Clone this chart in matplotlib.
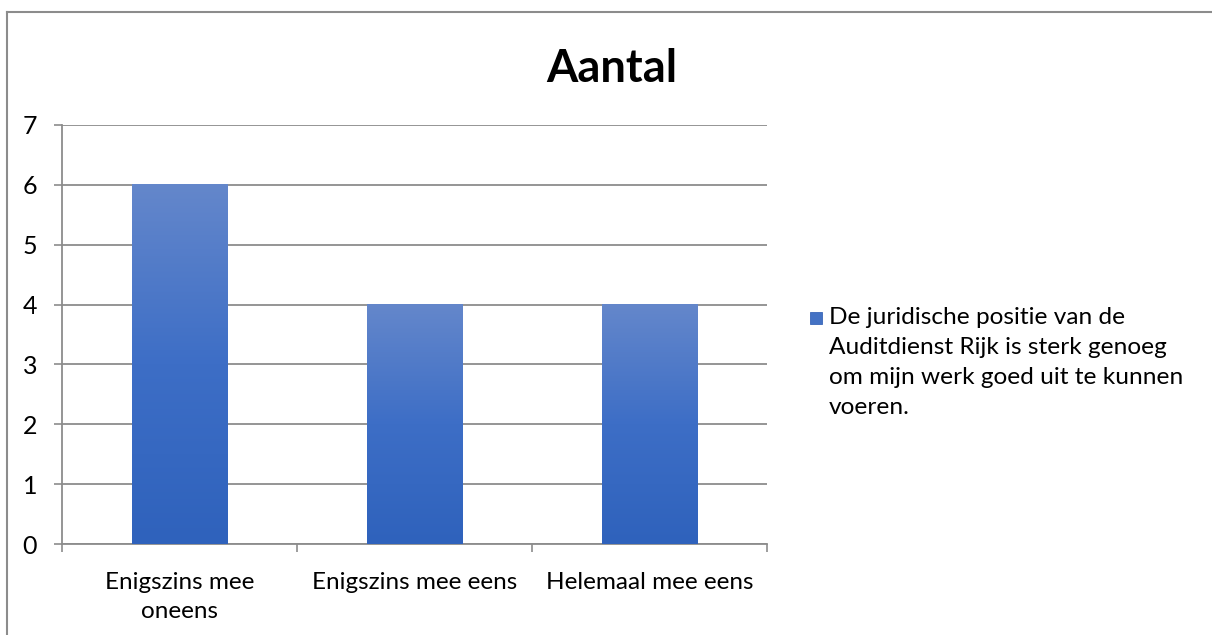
import numpy as np
import matplotlib.pyplot as plt
from matplotlib.colors import LinearSegmentedColormap
from matplotlib.patches import Rectangle
from matplotlib.lines import Line2D

categories = ['Enigszins mee\noneens', 'Enigszins mee eens', 'Helemaal mee eens']
values = [6, 4, 4]
series_name = ('De juridische positie van de\nAuditdienst Rijk is sterk genoeg\n'
               'om mijn werk goed uit te kunnen\nvoeren.')
title = 'Aantal'

plt.rcParams['font.family'] = ['Lato', 'DejaVu Sans']

grad = LinearSegmentedColormap.from_list('bar', ['#2f62bc', '#3d6ec6', '#6487cb'])
grid_col = '#8c8c8c'

fig = plt.figure(figsize=(12.12, 6.35), dpi=100)
ax = fig.add_axes([62 / 1212, 1 - 544 / 635, 705 / 1212, 419 / 635])

x = np.arange(len(categories))
width = 0.405
bars = ax.bar(x, values, width=width, color='#4472c4', zorder=2)
# vertical gradient on each bar
for b in bars:
    x0, y0 = b.get_x(), b.get_y()
    w, h = b.get_width(), b.get_height()
    ax.imshow(np.linspace(0, 1, 256).reshape(-1, 1), cmap=grad, origin='lower',
              extent=[x0, x0 + w, y0, y0 + h], aspect='auto', zorder=3)

ax.set_xlim(-0.5, len(categories) - 0.5)
ax.set_ylim(0, 7)
ax.set_yticks(range(0, 8))
ax.yaxis.grid(True, color=grid_col, linewidth=1.3, zorder=0)
ax.tick_params(axis='y', length=6, width=1.2, color=grid_col, labelsize=18, pad=12)

ax.set_xticks(x)
ax.set_xticklabels(categories, fontsize=17.5, linespacing=1.45)
ax.set_xticks(np.arange(-0.5, len(categories)), minor=True)
ax.tick_params(axis='x', which='major', length=0, pad=20.5)
ax.tick_params(axis='x', which='minor', length=6, width=1.2, color=grid_col)

for s in ['top', 'right']:
    ax.spines[s].set_visible(False)
for s in ['left', 'bottom']:
    ax.spines[s].set_color(grid_col)
    ax.spines[s].set_linewidth(1.3)

fig.text(612 / 1212, 1 - 69 / 635, title, ha='center', va='center',
         fontsize=32.5, fontweight='bold')

# legend: square marker beside first line of wrapped text
fig.add_artist(Rectangle((810 / 1212, 1 - 324 / 635), 12 / 1212, 12 / 635,
                         transform=fig.transFigure, facecolor='#4472c4',
                         edgecolor='#3a66b8', linewidth=0.6))
fig.text(829 / 1212, 1 - 307 / 635, series_name, ha='left', va='top',
         fontsize=17.6, linespacing=1.52)

# outer chart border (top and left only visible)
bx, by = 7 / 1212, 1 - 12 / 635
fig.add_artist(Line2D([bx, 1], [by, by], color='#8c8c8c', linewidth=1.5))
fig.add_artist(Line2D([bx, bx], [0, by], color='#8c8c8c', linewidth=1.5))

fig.savefig('out.png', dpi=100, facecolor='white')
